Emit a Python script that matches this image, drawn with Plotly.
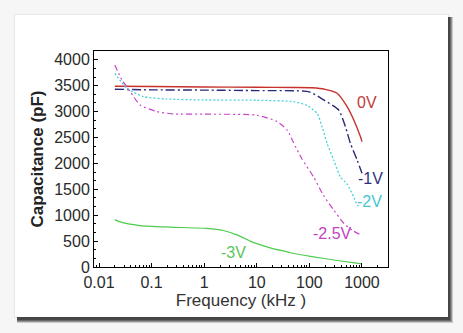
import math
import plotly.graph_objects as go

# Capacitance vs. frequency for several bias voltages
freq_0v = [0.02, 0.1, 1, 10, 50, 112, 200, 337, 522, 699, 936, 1000]
cap_0v = [3490, 3485, 3475, 3470, 3465, 3460, 3430, 3354, 3095, 2837, 2514, 2420]

freq_1v = [0.02, 0.1, 1, 10, 100, 187, 361, 485, 604, 811, 1000]
cap_1v = [3432, 3420, 3415, 3405, 3380, 3225, 3031, 2707, 2386, 2062, 1810]

freq_2v = [0.02, 0.034, 0.07, 0.19, 1, 10, 50, 90, 140, 175, 217, 291, 389, 522, 699, 811, 900]
cap_2v = [3740, 3450, 3290, 3244, 3225, 3219, 3192, 3120, 2967, 2707, 2386, 2062, 1738, 1600, 1351, 1200, 1160]

freq_25v = [0.02, 0.027, 0.039, 0.06, 0.126, 0.26, 1, 10, 24, 38, 50, 71, 120, 186, 290, 447, 646, 1000]
cap_25v = [3900, 3620, 3390, 3130, 3000, 2955, 2950, 2930, 2810, 2640, 2400, 2100, 1740, 1380, 1100, 850, 710, 610]

freq_3v = [0.02, 0.025, 0.06, 0.22, 1.1, 2.3, 4.2, 7.5, 10, 21, 32, 44, 105, 340, 1000]
cap_3v = [915, 870, 800, 770, 745, 705, 620, 500, 450, 350, 310, 275, 205, 125, 60]

series = [
    ("0V", freq_0v, cap_0v, "#c8302c", "solid", 1.4),
    ("-1V", freq_1v, cap_1v, "#2a2a7a", "9px,3px,2px,3px", 1.4),
    ("-2V", freq_2v, cap_2v, "#48d2da", "2px,2px", 1.3),
    ("-2.5V", freq_25v, cap_25v, "#c845c8", "6px,3px,2px,3px,2px,3px", 1.2),
    ("-3V", freq_3v, cap_3v, "#4ccc4c", "solid", 1.2),
]

# Curve labels (kHz, pF)
label_text = ["0V", "-1V", "-2V", "-2.5V", "-3V"]
label_freq = [1270, 1450, 1380, 274, 3.6]
label_cap = [3170, 1710, 1270, 650, 280]
label_color = ["#c03a3a", "#30307e", "#44c6d0", "#c242c2", "#5cc45c"]

W, H = 463, 333
ML, MR, MT, MB = 94, 75, 51, 66
PW, PH = W - ML - MR, H - MT - MB


def px(x):
    return (x - ML) / PW


def py(y):
    return (H - MB - y) / PH


fig = go.Figure()
for name, f, c, col, dash, w in series:
    fig.add_trace(go.Scatter(
        x=f, y=c, mode="lines", name=name,
        line=dict(color=col, dash=dash, width=w, shape="spline", smoothing=0.6),
        showlegend=False,
    ))

for t, f, c, col in zip(label_text, label_freq, label_cap, label_color):
    fig.add_annotation(x=math.log10(f), y=c, text=t, showarrow=False,
                       font=dict(family="Liberation Sans, Arial", size=16, color=col))

# Card with drop shadow
shapes = []
shadow = [((17, 17, 453, 323), 0.18), ((17, 17, 452, 322), 0.25),
          ((17, 17, 451, 321), 0.3), ((17, 17, 450, 320), 0.3)]
shapes.append(dict(type="rect", xref="paper", yref="paper",
                   x0=px(14), x1=px(449), y0=py(318), y1=py(14),
                   fillcolor="rgba(0,0,0,0.06)", line=dict(width=0), layer="below"))
for (x0, y0, x1, y1), op in shadow:
    shapes.append(dict(type="rect", xref="paper", yref="paper",
                       x0=px(x0), x1=px(x1), y0=py(y1), y1=py(y0),
                       fillcolor=f"rgba(0,0,0,{op})", line=dict(width=0), layer="below"))
shapes.append(dict(type="rect", xref="paper", yref="paper",
                   x0=px(15), x1=px(448), y0=py(317), y1=py(15),
                   fillcolor="white", line=dict(width=0), layer="below"))

font = "Liberation Sans, Arial, sans-serif"
fig.update_layout(
    width=W, height=H,
    margin=dict(l=ML, r=MR, t=MT, b=MB),
    paper_bgcolor="#f6f6f6",
    plot_bgcolor="white",
    shapes=shapes,
    font=dict(family=font, color="#2a2a2a"),
)
fig.update_xaxes(
    type="log", range=[-2.095, 3.495],
    tickvals=[0.01, 0.1, 1, 10, 100, 1000],
    ticktext=["0.01", "0.1", "1", "10", "100", "1000"],
    ticks="inside", ticklen=4, tickcolor="black",
    minor=dict(ticks="inside", ticklen=2, tickcolor="black", dtick="D1", showgrid=False),
    showline=True, linecolor="black", linewidth=1, mirror=True,
    showgrid=False, zeroline=False,
    ticklabelstandoff=1,
    tickfont=dict(size=16, color="#2a2a2a"),
    title=dict(text="Frequency (kHz )", font=dict(size=17, color="#333333"), standoff=0),
)
fig.update_yaxes(
    range=[0, 4170],
    tickvals=[0, 500, 1000, 1500, 2000, 2500, 3000, 3500, 4000],
    ticks="inside", ticklen=4, tickcolor="black",
    minor=dict(ticks="inside", ticklen=2, tickcolor="black", tick0=0, dtick=500 / 3, showgrid=False),
    showline=True, linecolor="black", linewidth=1, mirror=True,
    showgrid=False, zeroline=False,
    tickfont=dict(size=16, color="#2a2a2a"),
    title=dict(text="<b>Capacitance (pF)</b>", font=dict(size=17, color="#222222"), standoff=6),
)

fig.write_html("out.html")
